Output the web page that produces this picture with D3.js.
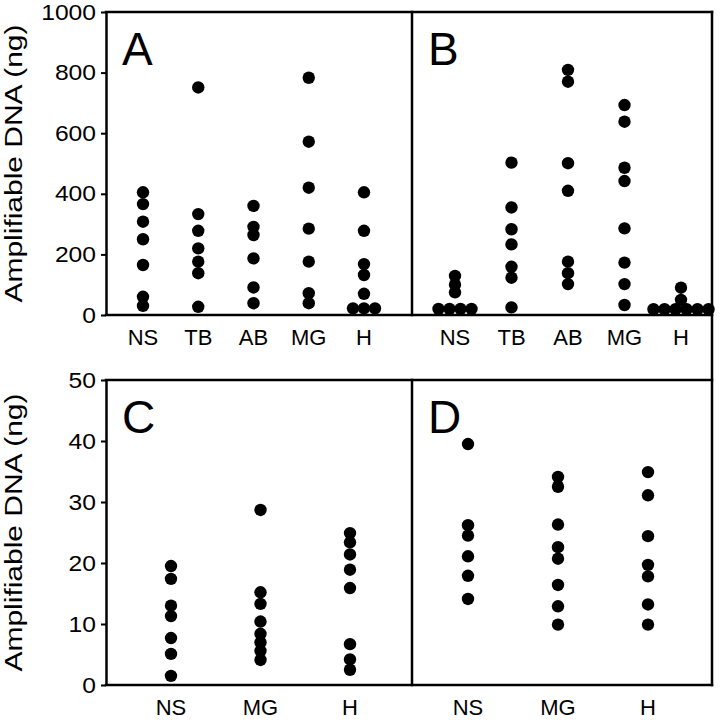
<!DOCTYPE html>
<html><head><meta charset="utf-8">
<script src="https://cdn.jsdelivr.net/npm/d3@7"></script>
<style>body{margin:0;background:#fff}svg{display:block}text{font-family:"Liberation Sans",Arial,Helvetica,sans-serif;fill:#000}</style>
</head><body><svg id="c" width="720" height="720"></svg>
<script>
// ---- data ----
const catsTop = ["NS","TB","AB","MG","H"];
const catsBottom = ["NS","MG","H"];
const ticksTop = [0,200,400,600,800,1000];
const ticksBottom = [0,10,20,30,40,50];
const yTitle = "Amplifiable DNA (ng)";
const panelLabels = ["A","B","C","D"];

const A_NS = [405,366,308,250,165,60,30];
const A_TB = [751,333,278,220,176,138,27];
const A_AB = [360,291,264,187,91,39];
const A_MG = [783,572,420,285,176,72,39];
const A_H  = [405,278,168,132,70,22,22,22];

const B_NS = [129,100,75,20,20,20,20];
const B_TB = [503,355,283,233,159,123,25];
const B_AB = [809,770,501,410,176,138,102];
const B_MG = [693,638,486,442,286,173,102,33];
const B_H  = [90,50,19,19,19,19,19,19];

const C_NS = [19.5,17.4,13.0,11.3,7.7,5.1,1.5];
const C_MG = [28.7,15.2,13.3,10.4,8.4,7.0,5.6,4.1];
const C_H  = [24.9,23.4,21.4,18.9,15.9,6.7,4.2,2.5];

const D_NS = [39.5,26.2,24.5,21.1,17.9,14.1];
const D_MG = [34.1,32.5,26.3,22.6,20.7,16.4,12.9,9.9];
const D_H  = [34.9,31.1,24.4,19.7,17.8,13.2,9.9];

// ---- layout ----
const svg = d3.select("#c");
const L = 106, MID = 412, R = 712;
const topY0 = 315, topY1 = 12, botY0 = 685, botY1 = 380;
const yTop = d3.scaleLinear().domain([0,1000]).range([topY0, topY1]);
const yBot = d3.scaleLinear().domain([0,50]).range([botY0, botY1]);

const panels = [
  {label:panelLabels[0], cats:catsTop, data:[A_NS,A_TB,A_AB,A_MG,A_H], y:yTop, x:d3.scalePoint().domain(catsTop).range([143,364]), x0:L},
  {label:panelLabels[1], cats:catsTop, data:[B_NS,B_TB,B_AB,B_MG,B_H], y:yTop, x:d3.scalePoint().domain(catsTop).range([455,681]), x0:MID},
  {label:panelLabels[2], cats:catsBottom, data:[C_NS,C_MG,C_H], y:yBot, x:d3.scalePoint().domain(catsBottom).range([171,350]), x0:L},
  {label:panelLabels[3], cats:catsBottom, data:[D_NS,D_MG,D_H], y:yBot, x:d3.scalePoint().domain(catsBottom).range([468,648]), x0:MID}
];

const SW = 2.5;
function line(x1,y1,x2,y2){
  svg.append("line").attr("x1",x1).attr("y1",y1).attr("x2",x2).attr("y2",y2)
    .attr("stroke","#000").attr("stroke-width",SW).attr("stroke-linecap","square");
}
// frames
line(L, topY1, R, topY1); line(L, topY0, R, topY0); line(MID, topY1, MID, topY0);
line(L, botY1, R, botY1); line(L, botY0, R, botY0); line(MID, botY1, MID, botY0);
line(R, topY1, R, botY0);

// axes
function yAxis(scale, ticks){
  const g = svg.append("g").attr("transform",`translate(${L},0)`)
    .call(d3.axisLeft(scale).tickValues(ticks).tickFormat(d3.format("d")).tickSize(5).tickPadding(5).tickSizeOuter(0));
  g.select(".domain").attr("stroke-width",SW);
  g.selectAll(".tick line").attr("stroke-width",2);
  g.selectAll(".tick text").style("font-size","22px").attr("fill","#000");
  g.selectAll(".tick text").each(function(){
    const w = this.getComputedTextLength();
    d3.select(this).attr("textLength", w*1.12).attr("lengthAdjust","spacingAndGlyphs");
  });
}
yAxis(yTop, ticksTop);
yAxis(yBot, ticksBottom);

// titles
[(topY0+topY1)/2, (botY0+botY1)/2].forEach(cy=>{
  svg.append("text").attr("transform",`translate(22,${cy}) rotate(-90)`)
    .attr("text-anchor","middle").style("font-size","23px")
    .attr("textLength",278).attr("lengthAdjust","spacingAndGlyphs").text(yTitle);
});

// points
const RAD = 6.2, SPREAD = 11;
panels.forEach(p=>{
  const y0 = p.y.range()[0];
  p.cats.forEach(c=>{
    svg.append("text").attr("x",p.x(c)).attr("y",y0+30).attr("text-anchor","middle")
      .style("font-size","22px").text(c);
  });
  svg.append("text").attr("x",p.x0+16).attr("y",p.y.range()[1]+53)
    .style("font-size","46px").text(p.label);
  p.cats.forEach((c,i)=>{
    const vals = p.data[i];
    const counts = d3.rollup(vals, v=>v.length, d=>d);
    const seen = new Map();
    const pts = vals.map(v=>{
      const k = counts.get(v); const j = seen.get(v)||0; seen.set(v,j+1);
      return {v, off:(j-(k-1)/2)*SPREAD};
    });
    svg.append("g").selectAll("circle").data(pts).join("circle")
      .attr("cx",d=>p.x(c)+d.off).attr("cy",d=>p.y(d.v)).attr("r",RAD).attr("fill","#000");
  });
});
</script></body></html>
